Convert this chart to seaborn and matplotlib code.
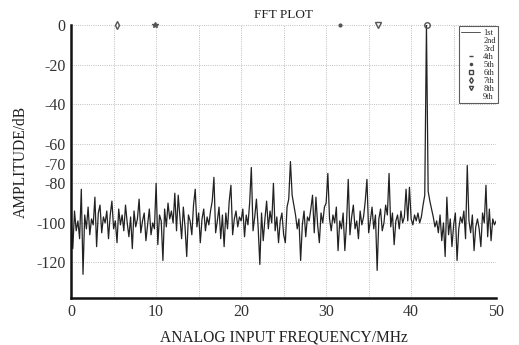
import numpy as np
import pandas as pd
import matplotlib
import matplotlib.pyplot as plt
import seaborn as sns
from matplotlib.lines import Line2D

matplotlib.use('agg')

# frequency bins (MHz), 0.2 MHz spacing
freq = np.linspace(0, 50, 251)

# amplitude (dB), 10 bins per row = 2 MHz
amp = [
    -97, -113, -94, -104, -99, -108, -83, -126, -96, -103,
    -92, -106, -98, -101, -87, -112, -95, -91, -105, -97,
    -100, -94, -108, -96, -89, -103, -99, -110, -93, -101,
    -96, -104, -91, -100, -107, -97, -113, -94, -102, -98,
    -88, -105, -99, -95, -109, -101, -93, -106, -100, -103,
    -80, -111, -96, -99, -119, -93, -102, -90, -98, -94,
    -100, -85, -104, -86, -97, -108, -92, -102, -117, -96,
    -99, -106, -91, -83, -102, -95, -110, -98, -93, -104,
    -97, -101, -94, -89, -77, -105, -99, -92, -108, -96,
    -112, -95, -103, -89, -81, -106, -98, -94, -102, -97,
    -99, -93, -107, -96, -101, -90, -72, -104, -97, -88,
    -102, -121, -95, -109, -98, -89, -103, -94, -100, -80,
    -104, -97, -110, -99, -95, -106, -110, -92, -88, -69,
    -86, -91, -96, -103, -98, -119, -101, -94, -107, -97,
    -99, -93, -86, -105, -87, -101, -110, -95, -100, -92,
    -90, -75, -98, -104, -96, -100, -92, -114, -99, -103,
    -95, -114, -100, -78, -106, -97, -91, -103, -99, -108,
    -94, -101, -97, -89, -78, -105, -99, -92, -103, -96,
    -124, -98, -93, -104, -100, -91, -96, -75, -102, -95,
    -111, -99, -96, -103, -94, -100, -97, -83, -99, -82,
    -98, -101, -96, -99, -95, -100, -97, -91, -86, 0,
    -84, -89, -93, -97, -102, -99, -105, -96, -109, -100,
    -117, -87, -106, -98, -112, -101, -95, -119, -103, -97,
    -100, -94, -108, -71, -99, -105, -96, -114, -102, -98,
    -103, -112, -95, -100, -81, -107, -93, -109, -98, -101,
    -99,
]

# harmonic markers drawn at the top of the plot
harm_freq = [5.4, 9.9, 31.6, 36.1]
harm_mark = ['d', '*', '.', 'v']
fund_freq = 41.9

legend_labels = ['1st', '2nd', '3rd', '4th', '5th', '6th', '7th', '8th', '9th']
legend_marks = [None, None, None, '_', '.', 's', 'd', 'v', None]

yticks = [0, -20, -40, -60, -70, -80, -100, -120]

df = pd.DataFrame({'freq': freq, 'amp': amp})

sns.set_style('white')
plt.rcParams['font.family'] = ['Liberation Serif', 'DejaVu Serif']

fig = plt.figure(figsize=(5.19, 3.45), dpi=100)
ax = fig.add_axes([0.137, 0.136, 0.819, 0.7915])

sns.lineplot(data=df, x='freq', y='amp', ax=ax, color='#222222', linewidth=0.9)

for f, m in zip(harm_freq, harm_mark):
    ax.plot([f], [0], marker=m, color='#555555', markersize=4,
            markerfacecolor='#555555' if m in ['*', '.'] else 'none',
            linestyle='none', clip_on=False)
ax.plot([fund_freq], [0], marker='o', color='#555555', markersize=4,
        markerfacecolor='none', linestyle='none', clip_on=False, zorder=5)

ax.set_xlim(0, 50)
ax.set_ylim(-138, 0)
ax.set_xticks(np.arange(0, 51, 5))
ax.set_xticklabels([str(v) if v % 10 == 0 else '' for v in range(0, 51, 5)])
ax.set_yticks(yticks)
ax.set_yticklabels([str(v) for v in yticks])
ax.tick_params(axis='both', direction='in', length=3, width=0.8,
               labelsize=11.5, labelcolor='#333333', color='#333333', pad=4)

ax.grid(True, linestyle=':', linewidth=0.6, color='#aaaaaa')
for s in ['top', 'right']:
    ax.spines[s].set_visible(False)
for s in ['left', 'bottom']:
    ax.spines[s].set_linewidth(1.8)
    ax.spines[s].set_color('#111111')

ax.set_title('FFT PLOT', fontsize=9.5, pad=5, color='#222222')
ax.set_xlabel('ANALOG INPUT FREQUENCY/MHz', fontsize=11.2, labelpad=7, color='#222222')
ax.set_ylabel('AMPLITUDE/dB', fontsize=11.2, labelpad=5, color='#222222')

handles = []
for lab, m in zip(legend_labels, legend_marks):
    if lab == '1st':
        handles.append(Line2D([0], [0], color='#555555', linewidth=0.7))
    elif m is None:
        handles.append(Line2D([0], [0], linestyle='none'))
    else:
        handles.append(Line2D([0], [0], linestyle='none', marker=m, color='#444444',
                              markersize=3, markerfacecolor='none' if m in ['s', 'd', 'v'] else '#444444'))
leg = ax.legend(handles, legend_labels, loc='upper right', bbox_to_anchor=(1.005, 0.995),
                fontsize=6, frameon=True, fancybox=False, handlelength=2.2,
                handletextpad=0.4, labelspacing=0.0, borderpad=0.3, borderaxespad=0)
leg.get_frame().set_edgecolor('#333333')
leg.get_frame().set_linewidth(0.8)

plt.savefig('out.png', dpi=100)
plt.close()
